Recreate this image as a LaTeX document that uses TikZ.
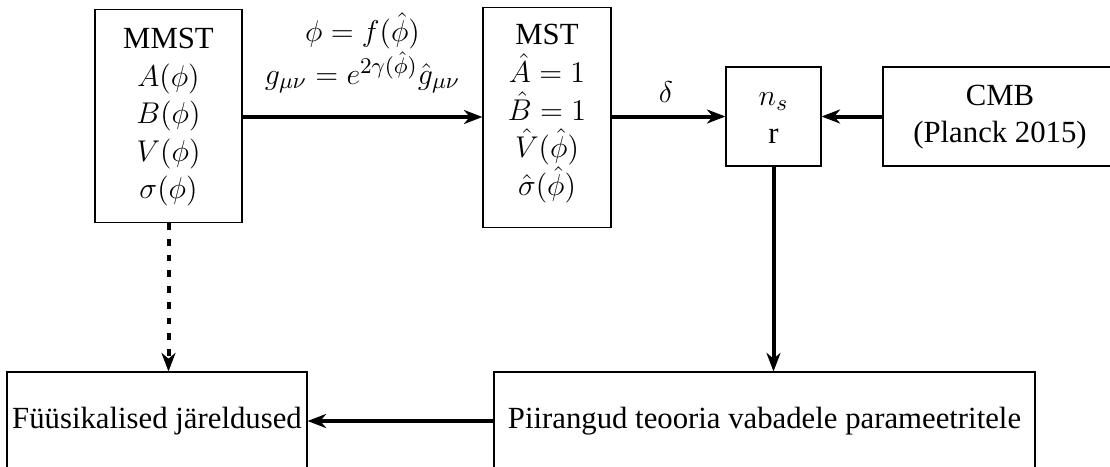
\documentclass[tikz,border=0pt]{standalone}
\usepackage{fontspec}
\setmainfont{Liberation Serif}
\usetikzlibrary{arrows.meta}
\newcommand\strutHD[2]{\vrule height #1 depth #2 width 0pt\relax}
\newcommand\tightlines{\lineskiplimit=-16000pt\relax}
\tikzset{
  txt/.style={font=\fontsize{12.3pt}{15pt}\selectfont\tightlines},
  box/.style={txt, draw, line width=0.45pt, inner sep=0pt, align=center},
  conn/.style={line width=1.6pt, -{Stealth[length=7.4pt,width=5.6pt,inset=2.3pt]}},
  lbl/.style={txt, align=center, inner sep=0pt}
}
\begin{document}
\begin{tikzpicture}[x=0.4pt,y=-0.4pt]
\useasboundingbox (0,0) rectangle (1110,466);
\node[box, minimum width=147*0.4pt, minimum height=213*0.4pt] (mmst) at (168.5,116)
  {\strutHD{10pt}{0pt}MMST\\$A(\phi)$\\$B(\phi)$\\$V(\phi)$\\\strutHD{0pt}{4pt}$\sigma(\phi)$};
\node[box, minimum width=128*0.4pt, minimum height=220*0.4pt] (mst) at (547,117.5)
  {\strutHD{9pt}{0pt}MST\\$\hat{A}=1$\\$\hat{B}=1$\\$\hat{V}(\hat{\phi})$\\\strutHD{0pt}{7pt}$\hat{\sigma}(\hat{\phi})$};
\node[box, minimum width=95*0.4pt, minimum height=99*0.4pt] (ns) at (773.5,116.5)
  {\strutHD{10pt}{0pt}$n_s$\\\strutHD{0pt}{3.6pt}r};
\node[box, minimum width=234*0.4pt, minimum height=99*0.4pt] (cmb) at (1000,116.5)
  {\strutHD{10pt}{0pt}CMB\\\strutHD{0pt}{4pt}(Planck 2015)};
\node[box, minimum width=300*0.4pt, minimum height=98*0.4pt] (bl) at (157,421)
  {Füüsikalised järeldused};
\node[box, minimum width=541*0.4pt, minimum height=98*0.4pt] (br) at (764.5,421)
  {Piirangud teooria vabadele parameetritele};
\draw[conn] (mmst.east |- 0,117) -- (mst.west |- 0,117);
\node[lbl, anchor=south, font=\fontsize{12.3pt}{17.2pt}\selectfont\tightlines] (tl) at (362.5,95)
  {$\phi=f(\hat{\phi})$\\\strutHD{0pt}{4pt}$g_{\mu\nu}=e^{2\gamma(\hat{\phi})}\hat{g}_{\mu\nu}$};
\draw[conn] (mst.east |- ns.west) -- (ns.west);
\node[lbl, anchor=base, font=\fontsize{13pt}{15pt}\selectfont] (dl) at (666,103) {$\delta$};
\draw[conn] (cmb.west) -- (ns.east);
\draw[conn] (ns.south) -- (ns.south |- br.north);
\draw[conn] (br.west |- bl.east) -- (bl.east);
\draw[conn, dash pattern=on 2.7pt off 3.6pt] (mmst.south) -- (mmst.south |- bl.north);
\end{tikzpicture}
\end{document}
